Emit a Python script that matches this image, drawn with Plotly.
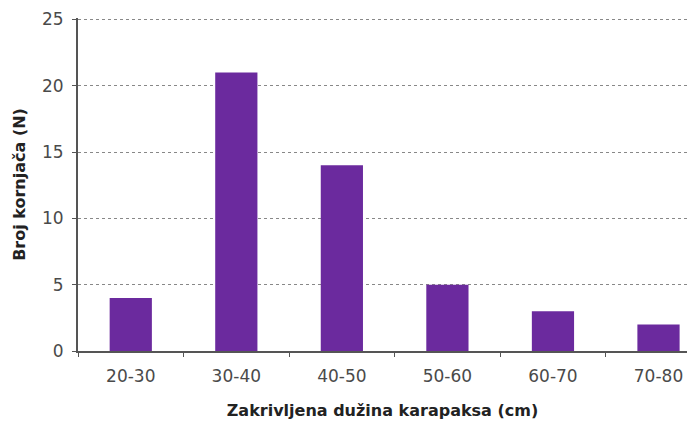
import plotly.graph_objects as go

categories = ["20-30", "30-40", "40-50", "50-60", "60-70", "70-80"]
counts = [4, 21, 14, 5, 3, 2]
y_ticks = [0, 5, 10, 15, 20, 25]

fig = go.Figure(go.Bar(
    x=categories, y=counts,
    marker=dict(color="#6B2A9E", line=dict(width=0)),
    width=0.4,
))

fig.update_layout(
    width=687, height=425,
    margin=dict(l=78, r=0, t=18, b=74),
    paper_bgcolor="white", plot_bgcolor="white",
    font=dict(family="DejaVu Sans, Verdana, sans-serif", size=17, color="#4a4a4a"),
    showlegend=False,
)
fig.update_xaxes(
    type="category", range=[-0.5, 5.27], automargin=False,
    showline=True, linecolor="#555555", linewidth=2,
    ticks="outside", tickson="boundaries", ticklen=4, tickcolor="#555555",
    ticklabelstandoff=9,
    showgrid=False,
    title=dict(text="<b>Zakrivljena dužina karapaksa (cm)</b>", font=dict(size=16, color="#222222"), standoff=19),
)
fig.update_yaxes(
    range=[0, 25.1], tickvals=y_ticks, automargin=False,
    showline=True, linecolor="#555555", linewidth=2,
    ticks="outside", ticklen=4, tickcolor="#555555",
    ticklabelstandoff=5,
    showgrid=True, gridcolor="#888888", griddash="dot", gridwidth=1,
    zeroline=False,
    title=dict(text="<b>Broj kornjača (N)</b>", font=dict(size=16, color="#222222"), standoff=12),
)
fig.write_html("out.html", config={"displayModeBar": False},
               post_script="document.body.style.margin='0';")
